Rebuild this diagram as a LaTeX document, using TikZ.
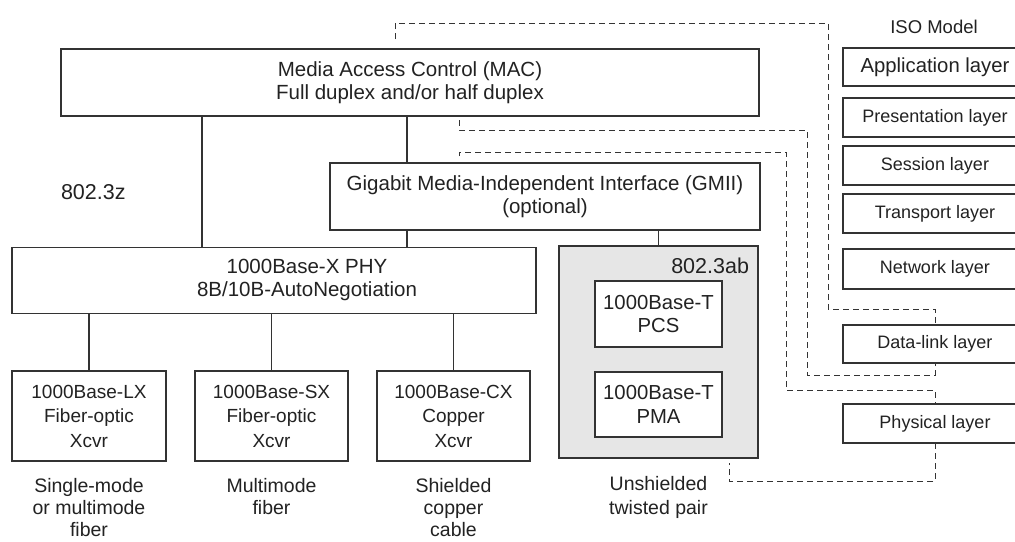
\documentclass[tikz,border=0pt]{standalone}
\usepackage{fontspec}
\setmainfont{Liberation Sans}
\usetikzlibrary{calc}
\definecolor{ink}{HTML}{222222}
\definecolor{edge}{HTML}{333333}
\definecolor{shade}{HTML}{E6E6E6}
\newcommand{\twolines}[2]{\begin{tabular}{@{}c@{}}#1\\#2\end{tabular}}
\begin{document}
\begin{tikzpicture}[x=1pt,y=-1pt,
  every node/.style={text=ink, inner sep=0pt, outer sep=0pt},
  box/.style={draw=edge, line width=1.2pt, fill=white, align=center,
    font=\fontsize{19}{24.5}\selectfont},
  bigbox/.style={box, font=\fontsize{20.5}{23.5}\selectfont},
  isobox/.style={box, minimum width=184pt, font=\fontsize{18}{22}\selectfont},
  caption/.style={align=center, font=\fontsize{19.5}{22}\selectfont},
  tag/.style={font=\fontsize{21.5}{24}\selectfont},
  wire/.style={draw=edge, line width=1.1pt},
  isolink/.style={draw=edge, line width=1pt, dash pattern=on 6pt off 4pt}]
\clip (0,0) rectangle (1015,541);
\fill[white] (0,0) rectangle (1015,541);

% protocol stack
\node[bigbox, minimum width=698pt, minimum height=67pt] (mac) at (410,82.5)
  {Media Access Control (MAC)\\Full duplex and/or half duplex};
\node[bigbox, minimum width=430pt, minimum height=67pt] (gmii) at (545,196.5)
  {Gigabit Media-Independent Interface (GMII)\\(optional)};
\node[bigbox, minimum width=524pt, minimum height=66pt] (phy) at (274,280.5)
  {\hspace*{66pt}\renewcommand{\arraystretch}{0.95}%
   \twolines{1000Base-X PHY}{8B/10B-AutoNegotiation}};
\node[tag, anchor=west] (z) at (61,192) {802.3z};

% 802.3ab group
\node[box, fill=shade, minimum width=199pt, minimum height=212pt] (ab) at (658.5,352) {};
\node[tag, anchor=east] (abl) at (749,266) {802.3ab};
\node[box, font=\fontsize{20.3}{23.5}\selectfont, minimum width=127pt, minimum height=66pt]
  (pcs) at (658.5,314) {1000Base-T\\PCS};
\node[box, font=\fontsize{20.3}{23.5}\selectfont, minimum width=127pt, minimum height=65pt]
  (pma) at (658.5,404.5) {1000Base-T\\PMA};

% transceivers
\node[box, minimum width=154pt, minimum height=90pt] (lx) at (89,416)
  {1000Base-LX\\Fiber-optic\\Xcvr};
\node[box, minimum width=153pt, minimum height=90pt] (sx) at (271.5,416)
  {1000Base-SX\\Fiber-optic\\Xcvr};
\node[box, minimum width=153pt, minimum height=90pt] (cx) at (453.5,416)
  {1000Base-CX\\Copper\\Xcvr};

% media
\node[caption, anchor=north] (lxm) at (89,478) {Single-mode\\or multimode\\fiber};
\node[caption, anchor=north] (sxm) at (271.5,478) {Multimode\\fiber};
\node[caption, anchor=north] (cxm) at (453.5,478) {Shielded\\copper\\cable};
\node[caption, anchor=north, font=\fontsize{19.5}{24}\selectfont] (utp) at (658.5,476) {Unshielded\\twisted pair};

% ISO model
\node[font=\fontsize{18.5}{22}\selectfont] (iso) at (934,27) {ISO Model};
\node[isobox, minimum height=38pt, font=\fontsize{20.3}{22}\selectfont] (app) at (935,67) {Application layer};
\node[isobox, minimum height=39pt] (pre) at (935,117.5) {Presentation layer};
\node[isobox, minimum height=39pt] (ses) at (935,165.5) {Session layer};
\node[isobox, minimum height=39pt] (tra) at (935,213.5) {Transport layer};
\node[isobox, minimum height=40pt] (net) at (935,269) {Network layer};
\node[isobox, minimum height=38pt] (dl) at (935,344) {Data-link layer};
\node[isobox, minimum height=39pt] (ph) at (935,423.5) {Physical layer};

% solid connections
\coordinate (xa) at (202,0);
\coordinate (xb) at (407,0);
\draw[wire] (mac.south -| xa) -- (phy.north -| xa);
\draw[wire] (mac.south -| xb) -- (gmii.north -| xb);
\draw[wire] (gmii.south -| xb) -- (phy.north -| xb);
\draw[wire] (gmii.south -| ab.north) -- (ab.north);
\draw[wire] (phy.south -| lx.north) -- (lx.north);
\draw[wire] (phy.south -| sx.north) -- (sx.north);
\draw[wire] (phy.south -| cx.north) -- (cx.north);

% mapping onto the ISO layers
\coordinate (d1) at (395,39);
\coordinate (d2) at (459,120);
\coordinate (d3) at (459,156);
\coordinate (d4) at (729,463);
\draw[isolink] (d1) |- (828,23) -- (828,309) -| (dl.north);
\draw[isolink] (d2) |- (807,130) -- (807,375) -| (dl.south);
\draw[isolink] (d3) |- (786,152) -- (786,390) -| (ph.north);
\draw[isolink] (ph.south) |- (d4 |- 0,481) -- (d4);
\end{tikzpicture}
\end{document}
